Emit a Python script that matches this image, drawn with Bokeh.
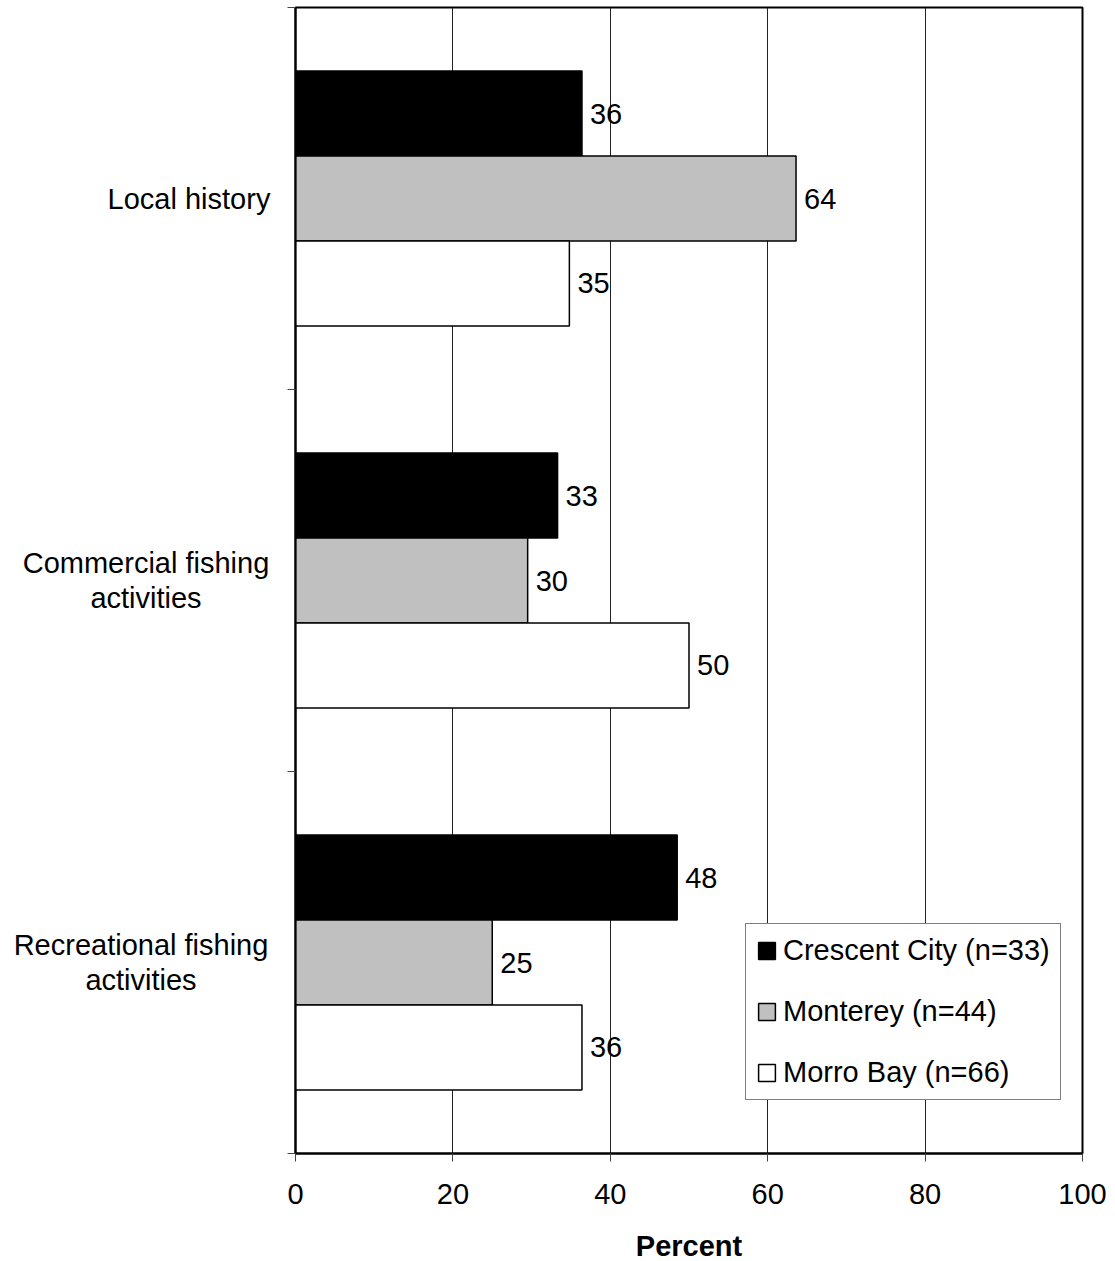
from bokeh.plotting import figure
from bokeh.layouts import row
from bokeh.models import ColumnDataSource, FixedTicker, Legend, LegendItem, Range1d
from bokeh.embed import file_html
from bokeh.resources import INLINE
from bokeh.core.properties import value

categories = ["Local history", "Commercial fishing activities", "Recreational fishing activities"]
cat_lines = [["Local history"], ["Commercial fishing", "activities"], ["Recreational fishing", "activities"]]
series = ["Crescent City (n=33)", "Monterey (n=44)", "Morro Bay (n=66)"]
crescent = [36.4, 33.3, 48.5]
monterey = [63.6, 29.5, 25.0]
morro = [34.8, 50.0, 36.4]
x_ticks = [0, 20, 40, 60, 80, 100]

colors = ["#000000", "#C0C0C0", "#FFFFFF"]
FONT = "Liberation Sans"
FS = "29px"

FRAME_H = 1146
TOP = 7
LEFT_W = 275

n = len(categories)
centers = [n - 0.5 - i for i in range(n)]
yr = Range1d(0, n)

p = figure(frame_width=787, frame_height=FRAME_H, output_backend="svg", toolbar_location=None,
           x_range=Range1d(0, 100), y_range=yr,
           min_border_left=20, min_border_right=26, min_border_top=TOP, min_border_bottom=10)
p.background_fill_color = "white"
p.border_fill_color = "white"
p.outline_line_color = "black"
p.outline_line_width = 2

bar_h = 0.2225
offsets = [bar_h, 0.0, -bar_h]

renderers = []
for s, vals, col, off in zip(series, [crescent, monterey, morro], colors, offsets):
    src = ColumnDataSource(dict(y=[c + off for c in centers], v=vals,
                                lab=[str(int(round(v))) for v in vals]))
    r = p.hbar(y="y", right="v", left=0, height=bar_h, source=src,
               fill_color=col, line_color="black", line_width=1.5)
    p.text(x="v", y="y", text="lab", source=src, x_offset=8,
           text_baseline="middle", text_align="left",
           text_font=value(FONT), text_font_size=FS, text_color="black")
    renderers.append((s, r))

# grid
p.xgrid.ticker = FixedTicker(ticks=x_ticks[1:-1])
p.xgrid.grid_line_color = "#222222"
p.xgrid.grid_line_width = 1
p.ygrid.grid_line_color = None

# x axis
p.xaxis.ticker = FixedTicker(ticks=x_ticks)
p.xaxis.axis_line_color = "black"
p.xaxis.axis_line_width = 2
p.xaxis.major_tick_line_color = "#444444"
p.xaxis.major_tick_out = 8
p.xaxis.major_tick_in = 0
p.xaxis.minor_tick_line_color = None
p.xaxis.major_label_text_font = FONT
p.xaxis.major_label_text_font_size = FS
p.xaxis.major_label_text_color = "black"
p.xaxis.major_label_standoff = 22
p.xaxis.axis_label = "Percent"
p.xaxis.axis_label_text_font = FONT
p.xaxis.axis_label_text_font_size = FS
p.xaxis.axis_label_text_font_style = "bold"
p.xaxis.axis_label_text_color = "black"
p.xaxis.axis_label_standoff = 23

# y axis: ticks at category boundaries, no labels
p.yaxis.ticker = FixedTicker(ticks=list(range(n + 1)))
p.yaxis.major_label_overrides = {i: "" for i in range(n + 1)}
p.yaxis.major_label_standoff = 0
p.yaxis.major_label_text_font_size = "1px"
p.yaxis.axis_line_color = "black"
p.yaxis.axis_line_width = 2
p.yaxis.major_tick_line_color = "#444444"
p.yaxis.major_tick_out = 8
p.yaxis.major_tick_in = 0
p.yaxis.minor_tick_line_color = None

legend = Legend(items=[LegendItem(label=s, renderers=[r]) for s, r in renderers],
                location=(450, 53), orientation="vertical")
legend.label_text_font = FONT
legend.label_text_font_size = FS
legend.label_text_color = "black"
legend.glyph_width = 21
legend.glyph_height = 21
legend.label_standoff = 6
legend.spacing = 28
legend.padding = 10
legend.margin = 0
legend.border_line_color = "black"
legend.border_line_width = 1
legend.background_fill_alpha = 1.0
p.add_layout(legend)

# left panel with category labels (shares the y range)
q = figure(frame_width=LEFT_W, frame_height=FRAME_H, output_backend="svg", toolbar_location=None,
           x_range=Range1d(0, LEFT_W), y_range=yr,
           min_border_left=0, min_border_right=0, min_border_top=TOP, min_border_bottom=0)
q.axis.visible = False
q.grid.visible = False
q.outline_line_color = None
q.background_fill_color = "white"
q.border_fill_color = "white"

label_widths = {"Local history": 165, "Commercial fishing": 251, "activities": 118,
                "Recreational fishing": 261}
px_per_unit_y = FRAME_H / float(n)
lx, ly, lt = [], [], []
for c, lines in zip(centers, cat_lines):
    block_w = max(label_widths[l] for l in lines)
    xc = 271 - block_w / 2.0
    nl = len(lines)
    for j, l in enumerate(lines):
        lx.append(xc)
        ly.append(c + ((nl - 1) / 2.0 - j) * 35 / px_per_unit_y)
        lt.append(l)
q.text(x=lx, y=ly, text=lt, text_align="center", text_baseline="middle",
       text_font=value(FONT), text_font_size=FS, text_color="black")

layout = row(q, p, spacing=0)
open("out.html", "w").write(file_html(layout, INLINE))
